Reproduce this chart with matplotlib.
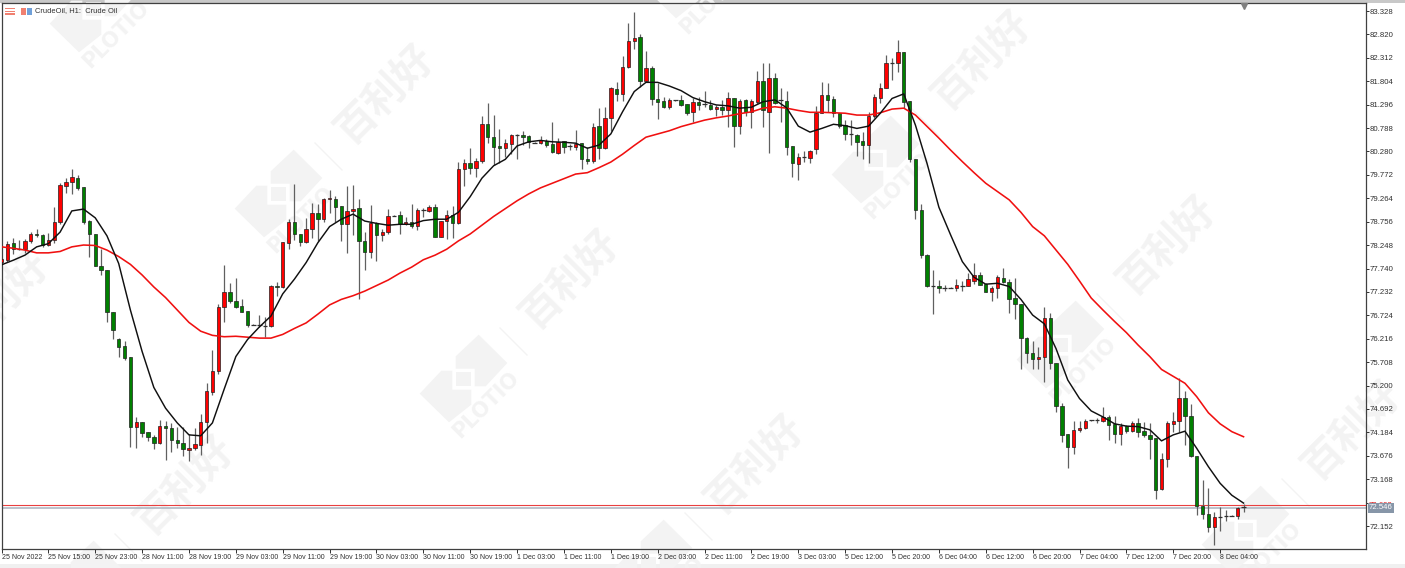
import matplotlib
matplotlib.use('Agg')
import matplotlib.pyplot as plt
from matplotlib.patches import Polygon, Rectangle
import numpy as np

W, H = 1405, 568

opens = [77.88,77.93,78.29,78.17,78.17,78.33,78.50,78.47,78.25,78.36,
    78.76,79.54,79.61,79.70,79.50,78.77,78.50,77.80,77.70,76.80,
    76.20,76.06,75.82,74.31,74.42,74.19,74.09,73.96,74.33,74.28,
    74.02,73.95,73.81,73.85,73.92,74.40,75.05,75.51,76.91,77.22,
    77.04,76.92,76.82,76.52,76.52,76.49,76.49,77.36,77.33,78.29,
    78.75,78.48,78.31,78.60,78.95,78.82,79.25,79.25,79.09,78.71,
    78.99,79.05,78.34,78.09,78.72,78.47,78.53,78.89,78.90,78.71,
    78.75,78.66,79.01,78.98,79.07,78.43,78.77,78.90,78.72,79.89,
    80.02,79.93,80.07,80.87,80.59,80.39,80.36,80.45,80.64,80.64,
    80.61,80.47,80.47,80.51,80.44,80.24,80.50,80.40,80.38,80.46,
    80.12,80.07,80.83,80.35,81.01,81.64,81.53,82.11,82.67,82.76,
    81.82,82.09,81.42,81.37,81.25,81.39,81.40,81.31,81.14,81.36,
    81.31,81.29,81.20,81.25,81.17,81.43,80.83,81.39,81.13,81.36,
    81.82,81.14,81.88,81.40,81.38,80.40,80.01,80.15,80.13,80.33,
    81.12,81.50,81.41,81.11,80.85,80.65,80.63,80.51,80.43,81.04,
    81.45,81.65,82.20,82.21,82.44,81.38,80.12,79.01,78.03,77.37,
    77.36,77.32,77.32,77.32,77.37,77.36,77.48,77.61,77.40,77.24,
    77.31,77.54,77.45,77.09,76.97,76.24,75.90,75.78,75.83,76.66,
    75.70,74.76,74.15,73.87,74.23,74.29,74.45,74.45,74.44,74.52,
    74.36,74.15,74.32,74.22,74.39,74.21,74.13,74.06,72.95,73.60,
    74.37,74.44,74.92,74.55,73.68,72.59,72.41,72.14,72.35,72.38,72.38,72.37,72.57]
highs = [77.97,78.34,78.41,78.36,78.38,78.54,78.59,78.50,78.52,79.07,
    79.60,79.70,79.89,79.77,79.50,78.79,78.50,78.16,77.70,76.80,
    76.23,76.17,75.82,74.52,74.42,74.19,74.13,74.45,74.44,74.39,
    74.31,74.30,74.16,74.27,74.58,75.25,75.97,76.97,77.82,77.42,
    77.53,77.07,76.82,76.53,76.73,76.69,77.38,77.45,78.31,78.81,
    79.57,78.48,78.83,79.16,79.13,79.26,79.44,79.31,79.09,79.54,
    79.55,79.25,78.54,79.12,78.76,78.59,79.03,78.90,78.99,78.86,
    79.14,79.05,79.05,79.12,79.14,78.77,79.01,79.09,80.06,80.11,
    80.35,80.13,81.06,81.33,81.07,80.76,80.54,80.67,80.65,80.73,
    80.64,80.48,80.62,80.54,80.91,80.57,80.50,80.44,80.75,80.46,
    80.38,80.89,81.22,81.24,81.67,81.78,82.36,83.07,83.31,82.82,
    82.47,82.14,81.76,81.46,81.43,81.40,81.51,81.32,81.43,81.47,
    81.60,81.40,81.29,81.40,81.56,81.43,81.41,81.41,81.42,82.03,
    82.19,82.19,81.99,81.65,81.60,80.40,80.24,80.30,80.31,81.27,
    81.79,81.77,81.48,81.11,80.96,80.96,80.66,80.71,81.13,81.53,
    81.76,82.37,82.30,82.70,82.44,81.38,80.12,79.13,78.05,77.71,
    77.49,77.38,77.33,77.51,77.48,77.65,77.85,77.67,77.42,77.37,
    77.60,77.75,77.51,77.53,76.97,76.26,76.17,76.03,76.90,76.77,
    75.70,74.82,74.15,74.44,74.44,74.47,74.46,74.49,74.74,74.56,
    74.55,74.38,74.34,74.44,74.49,74.42,74.38,74.06,73.73,74.44,
    74.63,75.36,75.08,74.79,73.68,73.15,72.97,72.46,72.57,72.50,72.39,72.57,72.63]
lows = [77.86,77.89,78.06,78.14,78.08,78.30,78.42,78.20,78.23,78.29,
    78.71,79.37,79.36,79.44,78.71,77.98,77.80,77.60,76.57,76.21,
    75.81,75.75,73.87,73.84,74.09,74.00,73.82,73.93,73.59,73.75,
    73.84,73.67,73.57,73.80,73.69,73.95,74.99,75.45,76.57,76.99,
    76.88,76.80,76.47,76.51,76.47,76.26,76.48,77.14,77.32,78.16,
    78.36,78.23,78.29,78.40,78.34,78.76,78.95,78.76,78.34,78.07,
    78.47,77.08,77.71,77.96,77.91,78.34,78.48,78.88,78.50,78.69,
    78.63,78.58,78.86,78.97,78.43,78.43,78.38,78.41,78.71,79.53,
    79.79,79.73,80.04,80.46,79.99,80.02,80.15,80.23,80.11,80.41,
    80.36,80.46,80.44,80.38,80.24,80.23,80.25,80.31,80.31,79.90,
    80.01,80.02,80.11,80.33,80.73,81.38,81.38,82.09,82.50,81.67,
    81.82,81.29,80.99,81.22,81.20,81.38,81.27,81.07,80.91,81.17,
    81.24,81.18,81.05,81.07,80.82,80.38,80.65,81.05,80.80,81.31,
    80.82,80.25,81.31,80.93,80.20,79.73,79.66,80.06,80.04,80.23,
    81.12,81.14,81.03,80.78,80.53,80.42,80.18,80.11,80.02,81.00,
    81.34,81.65,81.83,82.01,81.22,80.06,78.81,77.96,77.34,76.75,
    77.20,77.26,77.31,77.26,77.26,77.36,77.40,77.39,77.23,77.04,
    77.09,77.42,76.77,76.64,75.57,75.70,75.55,75.55,75.27,75.55,
    74.63,73.97,73.41,73.71,74.20,74.25,74.44,74.38,74.41,74.02,
    73.95,73.91,74.18,74.20,74.08,74.09,73.61,72.73,72.94,73.44,
    74.20,74.20,73.90,73.66,72.39,72.30,72.03,71.73,72.05,72.26,72.37,72.30,72.46]
closes = [77.94,78.27,78.17,78.17,78.34,78.50,78.47,78.25,78.36,78.76,
    79.55,79.61,79.72,79.49,78.75,78.50,77.80,77.70,76.80,76.41,
    76.04,75.80,74.31,74.42,74.18,74.08,73.96,74.33,74.27,74.02,
    73.96,73.82,73.85,73.93,74.40,75.08,75.52,76.91,77.22,77.04,
    76.90,76.80,76.51,76.52,76.52,76.49,77.36,77.33,78.31,78.76,
    78.48,78.31,78.60,78.95,78.82,79.24,79.26,79.08,78.71,78.98,
    79.03,78.34,78.09,78.72,78.46,78.53,78.88,78.89,78.71,78.75,
    78.66,79.01,79.01,79.07,78.43,78.77,78.90,78.72,79.90,80.02,
    79.93,80.07,80.87,80.59,80.38,80.36,80.46,80.64,80.64,80.59,
    80.48,80.47,80.52,80.41,80.26,80.49,80.38,80.40,80.45,80.11,
    80.07,80.82,80.35,81.01,81.65,81.53,82.12,82.68,82.74,81.82,
    82.09,81.42,81.36,81.25,81.39,81.39,81.29,81.12,81.35,81.29,
    81.31,81.20,81.25,81.17,81.43,80.83,81.37,81.13,81.38,81.82,
    81.18,81.87,81.34,81.40,80.38,80.02,80.17,80.15,80.29,81.12,
    81.50,81.40,81.11,80.84,80.65,80.65,80.49,80.43,81.06,81.46,
    81.66,82.20,82.20,82.43,81.36,80.11,79.01,78.03,77.36,77.37,
    77.31,77.32,77.32,77.38,77.37,77.51,77.61,77.39,77.24,77.31,
    77.55,77.44,77.08,76.96,76.23,75.90,75.78,75.83,76.66,75.68,
    74.76,74.13,73.87,74.23,74.29,74.44,74.45,74.45,74.52,74.35,
    74.15,74.32,74.22,74.39,74.20,74.13,74.05,72.94,73.60,74.38,
    74.44,74.92,74.55,73.68,72.59,72.41,72.14,72.35,72.35,72.38,72.38,72.54,72.57]

# moving averages
ma_bars = list(range(0, 213, 2))
fast_ma = [77.82,77.92,78.03,78.21,78.28,78.53,78.99,79.03,78.84,78.45,
    77.85,76.84,75.94,75.16,74.71,74.39,74.13,74.11,74.39,75.12,
    75.83,76.20,76.47,76.71,77.19,77.51,77.87,78.30,78.65,78.81,
    78.92,78.77,78.72,78.68,78.70,78.70,78.78,78.81,78.81,78.96,
    79.30,79.70,79.97,80.11,80.40,80.49,80.52,80.49,80.48,80.46,
    80.35,80.42,80.66,81.14,81.58,81.78,81.78,81.70,81.60,81.45,
    81.36,81.29,81.27,81.22,81.24,81.36,81.40,81.23,80.83,80.70,
    80.78,80.87,80.84,80.78,80.83,81.11,81.43,81.53,80.85,80.01,
    79.07,78.47,77.89,77.55,77.40,77.42,77.35,77.07,76.73,76.54,
    76.00,75.32,74.92,74.65,74.52,74.37,74.32,74.31,74.24,74.00,
    74.13,74.21,73.84,73.44,73.08,72.82,72.65]
slow_ma = [78.21,78.18,78.14,78.08,78.08,78.11,78.21,78.25,78.24,78.14,
    78.00,77.83,77.60,77.34,77.11,76.84,76.57,76.38,76.29,76.26,
    76.27,76.25,76.23,76.23,76.31,76.44,76.56,76.75,76.95,77.07,
    77.15,77.25,77.37,77.49,77.64,77.77,77.93,78.03,78.16,78.34,
    78.49,78.68,78.87,79.04,79.21,79.36,79.49,79.59,79.69,79.79,
    79.82,79.93,80.05,80.22,80.41,80.59,80.66,80.73,80.82,80.89,
    80.96,81.01,81.05,81.10,81.14,81.22,81.25,81.22,81.17,81.13,
    81.13,81.12,81.11,81.07,81.07,81.12,81.20,81.22,81.07,80.82,
    80.57,80.31,80.06,79.82,79.59,79.41,79.23,78.96,78.65,78.45,
    78.14,77.83,77.47,77.10,76.84,76.59,76.35,76.08,75.83,75.55,
    75.40,75.25,74.96,74.61,74.37,74.20,74.09]

price_ticks = [83.328,82.820,82.312,81.804,81.296,80.788,80.280,79.772,79.264,78.756,
    78.248,77.740,77.232,76.724,76.216,75.708,75.200,74.692,74.184,73.676,73.168,72.660,72.152]
price_labels = ['%.3f' % p for p in price_ticks]
price_labels[21] = ''
time_labels = ['25 Nov 2022','25 Nov 15:00','25 Nov 23:00','28 Nov 11:00','28 Nov 19:00','29 Nov 03:00',
    '29 Nov 11:00','29 Nov 19:00','30 Nov 03:00','30 Nov 11:00','30 Nov 19:00','1 Dec 03:00','1 Dec 11:00',
    '1 Dec 19:00','2 Dec 03:00','2 Dec 11:00','2 Dec 19:00','3 Dec 03:00','5 Dec 12:00','5 Dec 20:00',
    '6 Dec 04:00','6 Dec 12:00','6 Dec 20:00','7 Dec 04:00','7 Dec 12:00','7 Dec 20:00','8 Dec 04:00']
bid = 72.546
ask = 72.608

plt.rcParams['font.family'] = ['Liberation Sans', 'DejaVu Sans']

fig = plt.figure(figsize=(W / 100, H / 100), dpi=100, facecolor='white')
left, right, top, bottom = 1.5, 1365.7, 3.0, 549.3
ax = fig.add_axes([left / W, 1 - bottom / H, (right - left) / W, (bottom - top) / H])
ax.set_facecolor('none')


def px(x, y):
    return (x / W, 1 - y / H)


def box(x, y, w, h, col, z=5):
    # y is the bottom edge, counted from the top of the picture
    fig.add_artist(Rectangle(px(x, y), w / W, h / H, transform=fig.transFigure, fc=col, ec='none', zorder=z))


# outer window bands
box(0, 3, W, 3, '#c8c8c8', -3)
box(0, 568, W, 4, '#f0f0f0', -3)

# watermark, shapes given as offsets from the logo centre
upper = [(47, -133), (133, -48), (68, 22), (35, 22), (35, -31), (-22, -31), (-22, -68)]
lower = [(-65, -25), (-32, -25), (-32, 32), (25, 32), (25, 77), (-42, 130), (-130, 44)]
hole = [(-20, -21), (23, -21), (23, 20), (-20, 20)]
logos = [(93, 9), (278, 194), (463, 379), (648, 564), (-107, 400), (78, 585),
         (690, -25), (875, 160), (1060, 345), (1245, 530)]
WM = '#f3f3f3'
for cx, cy in logos:
    for shape in (upper, lower, hole):
        pts = [px(cx + a / 3, cy + b / 3) for a, b in shape]
        fig.add_artist(Polygon(pts, closed=True, transform=fig.transFigure, color=WM, lw=0, zorder=-2))
    fig.text(*px(cx + 23, cy + 26), 'PLOTIO', rotation=45, rotation_mode='anchor', ha='center', va='center',
             fontsize=15, fontweight='bold', color=WM, zorder=-2, family='DejaVu Sans')
    fig.add_artist(plt.Line2D([px(cx + 37, 0)[0], px(cx + 64, 0)[0]],
                              [px(0, cy - 51)[1], px(0, cy - 24)[1]],
                              transform=fig.transFigure, color=WM, lw=1, zorder=-2))
    fig.text(*px(cx + 107, cy - 100), '百利好', rotation=45, rotation_mode='anchor', ha='center', va='center',
             fontsize=29, fontweight='bold', color=WM, zorder=-2, family='Noto Sans CJK SC')

bars = np.arange(len(opens))
o, h, l, c = map(np.array, (opens, highs, lows, closes))
ax.vlines(bars, l, h, color='#606060', lw=0.9, zorder=2)
up = c > o
down = c < o
flat = c == o
ax.bar(bars[up], (c - o)[up], bottom=o[up], width=0.58, color='#ff0000', edgecolor='#202020', lw=0.5, zorder=3)
ax.bar(bars[down], (o - c)[down], bottom=c[down], width=0.58, color='#008000', edgecolor='#202020', lw=0.5, zorder=3)
ax.hlines(c[flat], bars[flat] - 0.4, bars[flat] + 0.4, color='#303030', lw=0.9, zorder=3)

ax.plot(ma_bars, slow_ma, color='#f01010', lw=1.15, zorder=4)
ax.plot(ma_bars, fast_ma, color='#101010', lw=1.05, zorder=5)

ax.axhline(bid, color='#a9b2bf', lw=1.1, zorder=1)
ax.axhline(ask, color='#e84040', lw=0.8, zorder=1)
ax.plot([212], [83.43], marker='v', ms=5, color='#808080', clip_on=False, zorder=6)

ax.set_xlim((left - 1.2) / 5.86, (right - 1.2) / 5.86)
ax.set_ylim(83.567 - 0.0217 * bottom, 83.567 - 0.0217 * top)

ax.yaxis.tick_right()
ax.set_yticks(price_ticks)
ax.set_yticklabels(price_labels)
ax.set_xticks(bars[::8])
ax.set_xticklabels(time_labels, ha='left')
ax.tick_params(axis='y', length=2.5, width=0.7, pad=0, labelsize=5.6, labelcolor='#303030', color='#303030')
ax.tick_params(axis='x', length=3, width=0.7, pad=0.5, labelsize=5.0, labelcolor='#303030', color='#303030')
for s in ax.spines.values():
    s.set_color('#404040')
    s.set_linewidth(0.9)

# price tags on the right
trans = ax.get_yaxis_transform()
ax.text(1.0022, ask, '%.3f' % ask, transform=trans, ha='left', va='center', fontsize=5.6, color='#e01010',
        clip_on=False, zorder=6)
ax.text(1.0022, bid, '%.3f' % bid, transform=trans, ha='left', va='center', fontsize=5.6, color='white',
        clip_on=False, zorder=7, bbox=dict(boxstyle='square,pad=0.15', fc='#8796a8', ec='none'))

# chart header
box(5, 15, 10, 7, '#f08070')
box(5, 13, 10, 1, 'white', 6)
box(5, 10.5, 10, 1, 'white', 6)
box(21, 15, 5, 7, '#f08070')
box(27, 15, 5, 7, '#70a0d8')
fig.text(*px(35, 11), 'CrudeOil, H1:  Crude Oil', fontsize=5.4, color='#303030', ha='left', va='center')

fig.savefig('out.png', dpi=100)
